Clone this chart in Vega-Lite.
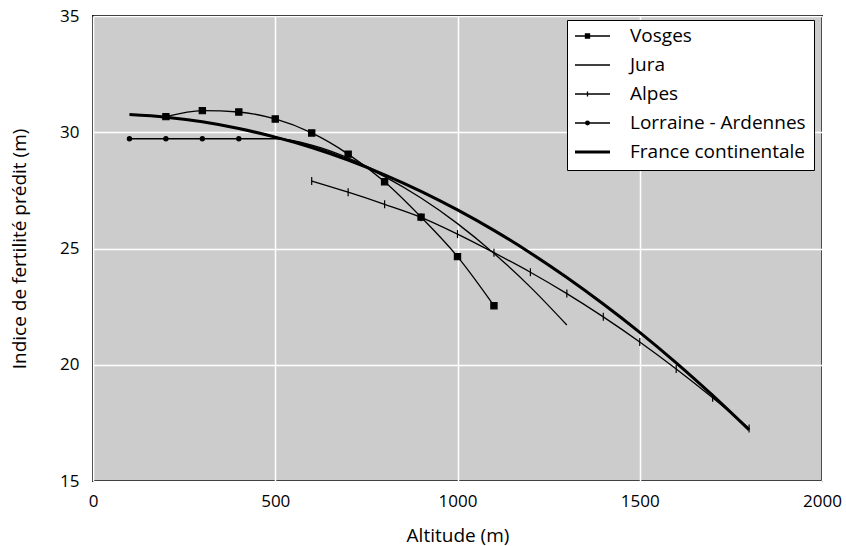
{
  "$schema": "https://vega.github.io/schema/vega-lite/v6.json",
  "width": 729,
  "height": 465,
  "autosize": {"type": "none"},
  "padding": {"left": 93, "top": 16, "right": 24, "bottom": 65},
  "background": "white",
  "config": {
    "view": {"fill": "#cccccc", "stroke": "black", "strokeWidth": 1.8},
    "font": "Open Sans",
    "axis": {
      "domain": false, "ticks": false, "grid": true, "gridColor": "white", "gridWidth": 1.5, "gridOpacity": 1,
      "labelFlush": false,
      "labelFont": "Open Sans", "labelFontSize": 17, "labelColor": "black",
      "titleFont": "Open Sans", "titleFontSize": 19, "titleFontWeight": "normal", "titleColor": "black"
    }
  },
  "data": {
    "values": [
      {"serie": "Vosges", "altitude": 200, "indice": 30.67},
      {"serie": "Vosges", "altitude": 300, "indice": 30.93},
      {"serie": "Vosges", "altitude": 400, "indice": 30.87},
      {"serie": "Vosges", "altitude": 500, "indice": 30.57},
      {"serie": "Vosges", "altitude": 600, "indice": 29.97},
      {"serie": "Vosges", "altitude": 700, "indice": 29.06},
      {"serie": "Vosges", "altitude": 800, "indice": 27.87},
      {"serie": "Vosges", "altitude": 900, "indice": 26.35},
      {"serie": "Vosges", "altitude": 1000, "indice": 24.65},
      {"serie": "Vosges", "altitude": 1100, "indice": 22.54},
      {"serie": "Jura", "altitude": 500, "indice": 29.8},
      {"serie": "Jura", "altitude": 600, "indice": 29.41},
      {"serie": "Jura", "altitude": 700, "indice": 28.84},
      {"serie": "Jura", "altitude": 800, "indice": 28.09},
      {"serie": "Jura", "altitude": 900, "indice": 27.17},
      {"serie": "Jura", "altitude": 1000, "indice": 26.07},
      {"serie": "Jura", "altitude": 1100, "indice": 24.79},
      {"serie": "Jura", "altitude": 1200, "indice": 23.34},
      {"serie": "Jura", "altitude": 1300, "indice": 21.71},
      {"serie": "Alpes", "altitude": 600, "indice": 27.9},
      {"serie": "Alpes", "altitude": 700, "indice": 27.42},
      {"serie": "Alpes", "altitude": 800, "indice": 26.9},
      {"serie": "Alpes", "altitude": 900, "indice": 26.34},
      {"serie": "Alpes", "altitude": 1000, "indice": 25.62},
      {"serie": "Alpes", "altitude": 1100, "indice": 24.82},
      {"serie": "Alpes", "altitude": 1200, "indice": 23.98},
      {"serie": "Alpes", "altitude": 1300, "indice": 23.06},
      {"serie": "Alpes", "altitude": 1400, "indice": 22.06},
      {"serie": "Alpes", "altitude": 1500, "indice": 20.98},
      {"serie": "Alpes", "altitude": 1600, "indice": 19.82},
      {"serie": "Alpes", "altitude": 1700, "indice": 18.58},
      {"serie": "Alpes", "altitude": 1800, "indice": 17.26},
      {"serie": "Lorraine - Ardennes", "altitude": 100, "indice": 29.72},
      {"serie": "Lorraine - Ardennes", "altitude": 200, "indice": 29.72},
      {"serie": "Lorraine - Ardennes", "altitude": 300, "indice": 29.72},
      {"serie": "Lorraine - Ardennes", "altitude": 400, "indice": 29.72},
      {"serie": "Lorraine - Ardennes", "altitude": 500, "indice": 29.72},
      {"serie": "Lorraine - Ardennes", "altitude": 600, "indice": 29.45},
      {"serie": "Lorraine - Ardennes", "altitude": 700, "indice": 28.9},
      {"serie": "Lorraine - Ardennes", "altitude": 800, "indice": 28.15},
      {"serie": "France continentale", "altitude": 100, "indice": 30.76},
      {"serie": "France continentale", "altitude": 200, "indice": 30.65},
      {"serie": "France continentale", "altitude": 300, "indice": 30.45},
      {"serie": "France continentale", "altitude": 400, "indice": 30.16},
      {"serie": "France continentale", "altitude": 500, "indice": 29.79},
      {"serie": "France continentale", "altitude": 600, "indice": 29.34},
      {"serie": "France continentale", "altitude": 700, "indice": 28.8},
      {"serie": "France continentale", "altitude": 800, "indice": 28.17},
      {"serie": "France continentale", "altitude": 900, "indice": 27.46},
      {"serie": "France continentale", "altitude": 1000, "indice": 26.66},
      {"serie": "France continentale", "altitude": 1100, "indice": 25.78},
      {"serie": "France continentale", "altitude": 1200, "indice": 24.81},
      {"serie": "France continentale", "altitude": 1300, "indice": 23.75},
      {"serie": "France continentale", "altitude": 1400, "indice": 22.61},
      {"serie": "France continentale", "altitude": 1500, "indice": 21.39},
      {"serie": "France continentale", "altitude": 1600, "indice": 20.08},
      {"serie": "France continentale", "altitude": 1700, "indice": 18.68},
      {"serie": "France continentale", "altitude": 1800, "indice": 17.2}
    ]
  },
  "layer": [
    {
      "mark": {"type": "line", "interpolate": "monotone"},
      "encoding": {
        "x": {
          "field": "altitude", "type": "quantitative",
          "scale": {"domain": [0, 2000], "nice": false},
          "axis": {"title": "Altitude (m)", "values": [0, 500, 1000, 1500, 2000], "format": "d", "labelPadding": 12, "titleBaseline": "alphabetic", "titleY": 60}
        },
        "y": {
          "field": "indice", "type": "quantitative",
          "scale": {"domain": [15, 35], "nice": false, "zero": false},
          "axis": {"title": "Indice de fertilité prédit (m)", "values": [15, 20, 25, 30, 35], "format": "d", "labelPadding": 14, "titleBaseline": "alphabetic", "titleX": -68}
        },
        "color": {
          "field": "serie", "type": "nominal",
          "scale": {"domain": ["Vosges", "Jura", "Alpes", "Lorraine - Ardennes", "France continentale"], "range": ["black", "black", "black", "black", "black"]},
          "legend": {
            "orient": "none", "legendX": 474, "legendY": 4, "title": null,
            "fillColor": "white", "strokeColor": "black",
            "padding": 8, "symbolOffset": 3, "symbolSize": 2025, "clipHeight": 16, "rowPadding": 10,
            "labelOffset": 33, "labelFontSize": 19, "labelFont": "Open Sans", "labelColor": "black", "labelLimit": 300,
            "symbolType": "stroke",
            "encode": {
              "symbols": {
                "update": {
                  "shape": {"signal": "datum.value === 'Vosges' ? 'M-1,0H1M-0.09,-0.09H0.09V0.09H-0.09Z' : datum.value === 'Alpes' ? 'M-1,0H1M0,-0.11V0.11' : datum.value === 'Lorraine - Ardennes' ? 'M-1,0H1M0.08,0A0.08,0.08,0,1,1,-0.08,0A0.08,0.08,0,1,1,0.08,0Z' : 'M-1,0H1'"},
                  "fill": {"value": "black"},
                  "stroke": {"value": "black"},
                  "strokeWidth": {"signal": "datum.value === 'France continentale' ? 3 : 1.3"},
                  "size": {"value": 2025},
                  "opacity": {"value": 1}
                }
              }
            }
          }
        },
        "strokeWidth": {
          "condition": {"test": "datum.serie === 'France continentale'", "value": 3},
          "value": 1.3
        }
      }
    },
    {
      "transform": [{"filter": "datum.serie !== 'Jura' && datum.serie !== 'France continentale' && !(datum.serie === 'Lorraine - Ardennes' && datum.altitude > 400)"}],
      "mark": {"type": "point", "filled": true, "fill": "black", "stroke": "black", "strokeWidth": 1.2, "opacity": 1, "size": 100},
      "encoding": {
        "x": {"field": "altitude", "type": "quantitative"},
        "y": {"field": "indice", "type": "quantitative"},
        "shape": {
          "field": "serie", "type": "nominal",
          "scale": {"domain": ["Vosges", "Alpes", "Lorraine - Ardennes"], "range": ["M-0.62,-0.62H0.62V0.62H-0.62Z", "M0,-0.8V0.8", "M0.42,0A0.42,0.42,0,1,1,-0.42,0A0.42,0.42,0,1,1,0.42,0Z"]},
          "legend": null
        }
      }
    }
  ]
}
